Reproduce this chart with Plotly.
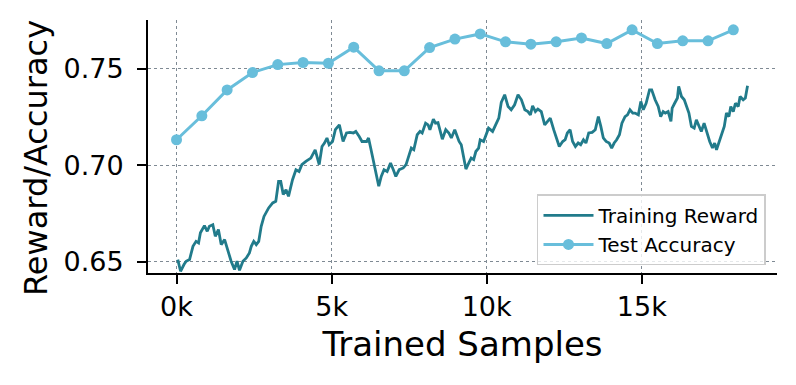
import plotly.graph_objects as go

# Training reward (x in thousands of samples)
train_k = [0.04, 0.13, 0.24, 0.31, 0.42, 0.53, 0.63, 0.71, 0.77, 0.90, 0.99, 1.06, 1.17, 1.25, 1.35, 1.44, 1.55, 1.65, 1.76, 1.87, 1.95, 2.03, 2.14, 2.25, 2.35, 2.41, 2.49, 2.57, 2.65, 2.73, 2.82,
           2.97, 3.10, 3.20, 3.29, 3.36, 3.44, 3.53, 3.61, 3.74, 3.85, 3.95, 4.04, 4.17, 4.33, 4.47, 4.60, 4.69, 4.77, 4.85, 4.92, 5.03, 5.12, 5.25, 5.37, 5.48, 5.59, 5.70, 5.78, 5.89, 5.98,
           6.13, 6.19, 6.26, 6.34, 6.43, 6.52, 6.60, 6.69, 6.79, 6.90, 6.99, 7.07, 7.18, 7.31, 7.40, 7.49, 7.57, 7.65, 7.76, 7.85, 7.92, 8.03, 8.11, 8.17, 8.28, 8.35, 8.43, 8.57, 8.68, 8.78, 8.86, 8.97, 9.11, 9.18,
           9.26, 9.33, 9.42, 9.50, 9.58, 9.65, 9.74, 9.79, 9.90, 9.98, 10.06, 10.19, 10.30, 10.39, 10.47, 10.58, 10.69, 10.79, 10.90, 11.01, 11.12, 11.23, 11.33, 11.41, 11.48, 11.57, 11.65, 11.76, 11.87, 11.98, 12.05, 12.16, 12.27, 12.34,
           12.45, 12.53, 12.60, 12.69, 12.77, 12.86, 12.95, 13.03, 13.12, 13.20, 13.29, 13.40, 13.50, 13.60, 13.68, 13.76, 13.85, 13.95, 14.03, 14.11, 14.19, 14.28, 14.36, 14.46, 14.54, 14.62, 14.71, 14.78, 14.89, 14.97, 15.05, 15.14, 15.25, 15.32, 15.43,
           15.53, 15.61, 15.69, 15.76, 15.85, 15.94, 15.98, 16.06, 16.15, 16.19, 16.28, 16.37, 16.44, 16.52, 16.60, 16.69, 16.76, 16.84, 16.92, 17.01, 17.10, 17.19, 17.28, 17.35, 17.41, 17.48, 17.57, 17.66, 17.73, 17.81, 17.87, 17.95, 18.02, 18.11, 18.17, 18.27, 18.34, 18.41]
train_reward = [0.6512, 0.6452, 0.6487, 0.6504, 0.6513, 0.6581, 0.6607, 0.6599, 0.6651, 0.6688, 0.6659, 0.6685, 0.6693, 0.6633, 0.6668, 0.6590, 0.6616, 0.6564, 0.6504, 0.6461, 0.6504, 0.6457, 0.6504, 0.6521, 0.6547, 0.6581, 0.6607, 0.6590, 0.6607, 0.6685, 0.6736,
                0.6780, 0.6806, 0.6814, 0.6917, 0.6917, 0.6849, 0.6874, 0.6840, 0.6926, 0.6978, 0.6969, 0.7004, 0.7021, 0.7038, 0.7081, 0.7004, 0.7098, 0.7116, 0.7142, 0.7107, 0.7124, 0.7185, 0.7210, 0.7124, 0.7168, 0.7171, 0.7168, 0.7176, 0.7150, 0.7124,
                0.7124, 0.7142, 0.7090, 0.7030, 0.6961, 0.6892, 0.6943, 0.6978, 0.6969, 0.7012, 0.6978, 0.6943, 0.6978, 0.6987, 0.7004, 0.7047, 0.7090, 0.7081, 0.7159, 0.7176, 0.7168, 0.7219, 0.7210, 0.7185, 0.7240, 0.7219, 0.7222, 0.7136, 0.7185, 0.7168, 0.7142, 0.7185, 0.7124, 0.7107,
                0.7030, 0.6981, 0.7012, 0.7038, 0.7030, 0.7072, 0.7090, 0.7133, 0.7124, 0.7159, 0.7193, 0.7176, 0.7219, 0.7245, 0.7326, 0.7366, 0.7305, 0.7288, 0.7314, 0.7366, 0.7340, 0.7288, 0.7279, 0.7262, 0.7309, 0.7279, 0.7292, 0.7279, 0.7210, 0.7228, 0.7245, 0.7185, 0.7133, 0.7098,
                0.7124, 0.7133, 0.7168, 0.7185, 0.7124, 0.7098, 0.7116, 0.7107, 0.7133, 0.7116, 0.7168, 0.7171, 0.7185, 0.7253, 0.7202, 0.7142, 0.7124, 0.7116, 0.7090, 0.7116, 0.7133, 0.7159, 0.7219, 0.7253, 0.7262, 0.7288, 0.7271, 0.7271, 0.7262, 0.7331, 0.7288, 0.7322, 0.7391, 0.7391, 0.7340,
                0.7305, 0.7253, 0.7279, 0.7271, 0.7279, 0.7228, 0.7297, 0.7322, 0.7349, 0.7409, 0.7357, 0.7340, 0.7305, 0.7271, 0.7202, 0.7193, 0.7236, 0.7210, 0.7176, 0.7219, 0.7168, 0.7124, 0.7090, 0.7116, 0.7081, 0.7116, 0.7159, 0.7202, 0.7271, 0.7253, 0.7305, 0.7279, 0.7322, 0.7305, 0.7357, 0.7340, 0.7349, 0.7412]

# Test accuracy (x in thousands of samples)
test_k = [0, 0.816, 1.632, 2.448, 3.264, 4.08, 4.896, 5.712, 6.528, 7.344, 8.16, 8.976,
          9.792, 10.608, 11.424, 12.24, 13.056, 13.872, 14.688, 15.504, 16.32, 17.136, 17.952]
test_acc = [0.7133, 0.7257, 0.7391, 0.7481, 0.7522, 0.7533, 0.7529, 0.7612, 0.7490, 0.7490, 0.7610, 0.7654,
            0.7681, 0.7640, 0.7628, 0.7640, 0.7660, 0.7631, 0.7702, 0.7631, 0.7645, 0.7645, 0.7702]

x_tickvals = [0, 5, 10, 15]
x_ticktext = ["0k", "5k", "10k", "15k"]
y_tickvals = [0.65, 0.70, 0.75]
y_ticktext = ["0.65", "0.70", "0.75"]

FONT = "DejaVu Sans"

fig = go.Figure()
fig.add_trace(go.Scatter(x=train_k, y=train_reward, mode="lines", name="Training Reward",
                         line=dict(color="#217b8b", width=2.8)))
fig.add_trace(go.Scatter(x=test_k, y=test_acc, mode="lines+markers", name="Test Accuracy",
                         line=dict(color="#68bedb", width=3),
                         marker=dict(color="#68bedb", size=11)))

fig.update_layout(
    width=796, height=385,
    margin=dict(l=140, r=27, t=12, b=120),
    paper_bgcolor="white", plot_bgcolor="white",
    font=dict(family=FONT, color="black"),
    showlegend=True,
    legend=dict(x=0.9825, y=0.03, xanchor="right", yanchor="bottom",
                bgcolor="rgba(255,255,255,0.8)", bordercolor="#cccccc", borderwidth=1.5,
                font=dict(family=FONT, size=20, color="black"),
                tracegroupgap=0, itemwidth=50),
    annotations=[dict(text="Reward/Accuracy", textangle=-90, showarrow=False,
                      xref="paper", yref="paper", x=-0.178, y=0.455,
                      xanchor="center", yanchor="middle",
                      font=dict(family=FONT, size=32, color="black"))],
)
fig.update_xaxes(
    range=[-0.92, 19.36], tickvals=x_tickvals, ticktext=x_ticktext,
    showline=True, linecolor="black", linewidth=1.8, mirror=False,
    ticks="outside", ticklen=9, tickwidth=1.6, tickcolor="black",
    tickfont=dict(family=FONT, size=27, color="black"),
    showgrid=True, gridcolor="#7f8a94", gridwidth=0.8, griddash="dot",
    zeroline=False, automargin=False,
    title=dict(text="Trained Samples", font=dict(family=FONT, size=34, color="black"), standoff=11),
)
fig.update_yaxes(
    range=[0.6443, 0.7753], tickvals=y_tickvals, ticktext=y_ticktext,
    showline=True, linecolor="black", linewidth=1.8, mirror=False,
    ticks="outside", ticklen=9, tickwidth=1.6, tickcolor="black", ticklabelstandoff=8,
    tickfont=dict(family=FONT, size=27, color="black"),
    showgrid=True, gridcolor="#7f8a94", gridwidth=0.8, griddash="dot",
    zeroline=False, automargin=False,
)

fig.write_html("out.html")
